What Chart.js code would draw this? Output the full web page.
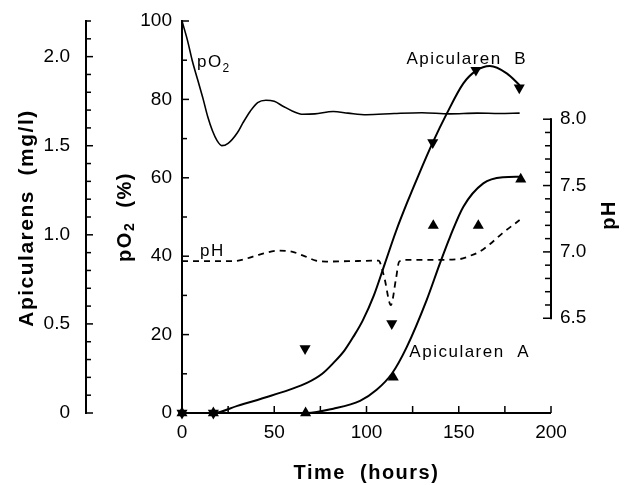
<!DOCTYPE html>
<html>
<head>
<meta charset="utf-8">
<script src="https://cdn.jsdelivr.net/npm/chart.js@4.4.0/dist/chart.umd.min.js"></script>
<style>
  html, body { margin: 0; padding: 0; background: #fff; }
  canvas { display: block; }
</style>
</head>
<body>
<canvas id="chart" width="624" height="485"></canvas>
<script>
// pO2 trace (% saturation) against time (hours)
const po2Hours = [0, 3, 5.5, 8.5, 11.5, 14, 16.5, 19, 21.5, 25, 30, 33, 37, 41, 45.5, 50, 55, 60, 65.5, 72, 82, 90, 100, 115, 130, 145, 160, 172, 183];
const po2Values = [100, 95, 90, 85, 80, 75.5, 72, 69.5, 68.2, 68.8, 71.5, 74, 77, 79.2, 79.8, 79.5, 78.2, 77, 76.2, 76.3, 76.9, 76.5, 76.1, 76.4, 76.6, 76.3, 76.5, 76.4, 76.5];

// pH trace (dashed)
const phHours = [0, 15, 28, 35, 42, 52.8, 60, 66, 72.6, 78, 90, 106.5, 109.6, 113.2, 115.9, 117.7, 121.3, 135, 150, 156, 161, 167, 173.6, 183];
const phValues = [6.93, 6.93, 6.93, 6.95, 6.98, 7.01, 7.0, 6.97, 6.935, 6.927, 6.93, 6.934, 6.81, 6.6, 6.79, 6.927, 6.94, 6.94, 6.945, 6.97, 7.0, 7.06, 7.14, 7.24];

// fitted curves (mg/l)
const apicBCurveHours = [0, 17, 30, 46, 58, 68, 76, 82, 88, 93, 98, 104, 110, 116, 122, 128, 136, 143.5, 152.5, 159.3, 166.9, 176, 183];
const apicBCurveValues = [0, 0, 0.04, 0.09, 0.13, 0.17, 0.22, 0.28, 0.35, 0.43, 0.52, 0.66, 0.84, 1.02, 1.18, 1.33, 1.52, 1.68, 1.85, 1.92, 1.947, 1.906, 1.84];
const apicACurveHours = [0, 17, 45, 67.6, 82, 96.5, 105.5, 113.7, 121.8, 132.6, 139.8, 145.3, 152.5, 163.3, 174.1, 183.2];
const apicACurveValues = [0, 0, 0, 0, 0.024, 0.068, 0.13, 0.22, 0.37, 0.634, 0.84, 0.989, 1.158, 1.289, 1.323, 1.326];

// measured points (mg/l)
const apicBHours = [0, 17, 66.7, 113.7, 135.9, 159.3, 182.8];
const apicBValues = [0, 0, 0.362, 0.502, 1.518, 1.924, 1.825];
const apicAHours = [0, 17, 67, 114.5, 136.2, 160.6, 183.6];
const apicAValues = [0, 0, 0, 0.2, 1.052, 1.052, 1.312];

const xTickLabels = [0, 50, 100, 150, 200];
const po2TickLabels = [0, 20, 40, 60, 80, 100];
const apicTickLabels = [0, 0.5, 1.0, 1.5, 2.0];
const phTickLabels = [6.5, 7.0, 7.5, 8.0];

// text written next to the curves, placed in hours / pO2 units
const curveLabels = [
  { parts: [["pO", 0], ["2", 1]], hours: 8.1, po2: 88.3, align: "left" },
  { parts: [["pH", 0]], hours: 9.8, po2: 40.0, align: "left" },
  { parts: [["Apicularen  B", 0]], hours: 187, po2: 89.0, align: "right" },
  { parts: [["Apicularen  A", 0]], hours: 188.6, po2: 14.3, align: "right" },
];

const FONT = "'Liberation Sans', Arial, Helvetica, sans-serif";
Chart.defaults.font.family = FONT;
Chart.defaults.color = "#000";

const toPoints = (xs, ys) => xs.map((x, i) => ({ x, y: ys[i] }));
const pickLabel = (list, v, fmt) => {
  const hit = list.find((l) => Math.abs(l - v) < 1e-6);
  return hit === undefined ? "" : fmt(hit);
};

// writes text pieces in a row; pieces flagged 1 are subscripts
const drawParts = (ctx, parts, x, y, size, weight, align) => {
  ctx.save();
  ctx.letterSpacing = "1.5px";
  const fontOf = (sub) => `${weight} ${sub ? Math.round(size * 0.72) : size}px ${FONT}`;
  const widths = parts.map(([t, sub]) => {
    ctx.font = fontOf(sub);
    return ctx.measureText(t).width;
  });
  const total = widths.reduce((a, b) => a + b, 0);
  let cx = align === "right" ? x - total : align === "center" ? x - total / 2 : x;
  ctx.textAlign = "left";
  parts.forEach(([t, sub], i) => {
    ctx.font = fontOf(sub);
    ctx.fillText(t, cx, y + (sub ? size * 0.28 : 0));
    cx += widths[i];
  });
  ctx.restore();
};

const drawAxisLines = (chart) => {
  const { ctx, scales, chartArea } = chart;
  const ya = scales.yA;
  const ph = scales.yPH;
  const { left, right, top, bottom } = chartArea;
  ctx.save();
  ctx.fillStyle = "#000";
  ctx.setLineDash([]);
  const ph80 = ph.getPixelForValue(8.0);
  const ph65 = ph.getPixelForValue(6.5);
  ctx.fillRect(left - 1, top - 1, 2, bottom - top + 2);
  ctx.fillRect(ya.right - 1, top - 1, 2, bottom - top + 2);
  ctx.fillRect(right - 1, ph80 - 1, 2, ph65 - ph80 + 2);
  ctx.fillRect(left - 1, bottom - 1, right - left + 1, 2);
  ctx.restore();
};

// axis lines, inward tick marks and the side titles drawn by hand
const axisPlugin = {
  id: "axisLines",
  afterDraw(chart) {
    const { ctx, scales, chartArea } = chart;
    const xs = scales.x;
    const ys = scales.y;
    const ya = scales.yA;
    const ph = scales.yPH;
    const { top, bottom, left, right } = chartArea;
    drawAxisLines(chart);

    ctx.save();
    ctx.fillStyle = "#000";
    // tick marks pointing into the plot
    xs.ticks.forEach((t) => {
      if (t.value === 0) return;
      const px = xs.getPixelForValue(t.value);
      ctx.fillRect(px - 0.75, bottom - 7, 1.5, 7);
    });
    [ys, ya].forEach((s) => {
      s.ticks.forEach((t) => {
        const py = s.getPixelForValue(t.value);
        const len = t.label !== "" ? 7 : 5;
        ctx.fillRect(s.right, py - 0.75, len, 1.5);
      });
    });
    ph.ticks.forEach((t) => {
      const py = ph.getPixelForValue(t.value);
      const len = t.label !== "" ? 8 : 6;
      ctx.fillRect(right - len, py - 0.75, len, 1.5);
    });

    const midY = (top + bottom) / 2;
    ctx.textBaseline = "middle";

    // x title
    drawParts(ctx, [["Time  (hours)", 0]], (left + right) / 2, 473, 20, "bold", "center");

    // Apicularens title, reading bottom to top
    ctx.save();
    ctx.translate(ya.left + 27, midY + 1);
    ctx.rotate(-Math.PI / 2);
    drawParts(ctx, [["Apicularens  (mg/l)", 0]], 0, 0, 21, "bold", "center");
    ctx.restore();

    // pO2 title, reading bottom to top
    ctx.save();
    ctx.translate(ys.left + 39, midY);
    ctx.rotate(-Math.PI / 2);
    drawParts(ctx, [["pO", 0], ["2", 1], ["  (%)", 0]], 0, 0, 20, "bold", "center");
    ctx.restore();

    // pH title, reading bottom to top
    ctx.save();
    ctx.translate(ph.left + 58, midY - 2);
    ctx.rotate(-Math.PI / 2);
    drawParts(ctx, [["pH", 0]], 0, 0, 20, "bold", "center");
    ctx.restore();

    ctx.restore();
  },
};

const labelPlugin = {
  id: "curveLabels",
  afterDatasetsDraw(chart) {
    const { ctx, scales } = chart;
    ctx.save();
    ctx.fillStyle = "#000";
    ctx.textBaseline = "alphabetic";
    curveLabels.forEach((l) => {
      drawParts(ctx, l.parts, scales.x.getPixelForValue(l.hours), scales.y.getPixelForValue(l.po2), 17, "normal", l.align);
    });
    ctx.restore();
  },
};

const lineStyle = {
  borderColor: "#000",
  pointRadius: 0,
  fill: false,
  cubicInterpolationMode: "monotone",
};
const frameStyle = {
  borderColor: "#000",
  borderWidth: 2,
  pointRadius: 0,
  fill: false,
  clip: false,
  tension: 0,
};
const markerStyle = {
  showLine: false,
  pointStyle: "triangle",
  pointRadius: 6.4,
  backgroundColor: "#000",
  borderColor: "#000",
  borderWidth: 0,
  clip: false,
  yAxisID: "yA",
};

const axisGrid = { display: false, drawTicks: false };
const axisBorder = { display: false };
const fixWidth = (w) => (s) => {
  s.width = w;
  s.paddingTop = 0;
  s.paddingBottom = 0;
};

new Chart(document.getElementById("chart").getContext("2d"), {
  type: "line",
  data: {
    datasets: [
      { ...lineStyle, label: "pO2", data: toPoints(po2Hours, po2Values), yAxisID: "y", borderWidth: 1.6 },
      { ...lineStyle, label: "pH", data: toPoints(phHours, phValues), yAxisID: "yPH", borderWidth: 1.8, borderDash: [6, 5] },
      { ...lineStyle, label: "Apicularen B fit", data: toPoints(apicBCurveHours, apicBCurveValues), yAxisID: "yA", borderWidth: 2 },
      { ...lineStyle, label: "Apicularen A fit", data: toPoints(apicACurveHours, apicACurveValues), yAxisID: "yA", borderWidth: 2 },
      { ...markerStyle, label: "Apicularen B", data: toPoints(apicBHours, apicBValues), pointRotation: 180 },
      { ...markerStyle, label: "Apicularen A", data: toPoints(apicAHours, apicAValues), pointRotation: 0 },
      // axis frame along the time axis, the pO2 axis and the pH axis
      { ...frameStyle, label: "time axis", data: [{ x: 0, y: 0 }, { x: 200, y: 0 }], yAxisID: "y" },
      { ...frameStyle, label: "pO2 axis", data: [{ x: 0, y: 0 }, { x: 0, y: 100 }], yAxisID: "y" },
      { ...frameStyle, label: "pH axis", data: [{ x: 200, y: 6.5 }, { x: 200, y: 8.0 }], yAxisID: "yPH" },
    ],
  },
  options: {
    responsive: false,
    animation: false,
    events: [],
    layout: { padding: { top: 21, left: 0, right: 0, bottom: 0 } },
    plugins: { legend: { display: false }, tooltip: { enabled: false } },
    scales: {
      x: {
        type: "linear",
        position: "bottom",
        min: 0,
        max: 200,
        border: axisBorder,
        grid: axisGrid,
        ticks: {
          stepSize: 25,
          padding: 8,
          autoSkip: false,
          maxRotation: 0,
          font: { size: 19 },
          callback: (v) => pickLabel(xTickLabels, v, String),
        },
        title: { display: false },
        afterFit: (s) => {
          s.height = 72;
          s.paddingLeft = 0;
          s.paddingRight = 0;
        },
      },
      y: {
        position: "left",
        weight: 0,
        min: 0,
        max: 100,
        border: axisBorder,
        grid: axisGrid,
        ticks: {
          stepSize: 10,
          padding: 10,
          autoSkip: false,
          font: { size: 19 },
          callback: (v) => pickLabel(po2TickLabels, v, String),
        },
        title: { display: false },
        afterFit: fixWidth(96),
      },
      yA: {
        position: "left",
        weight: 1,
        min: 0,
        max: 2.2,
        border: axisBorder,
        grid: axisGrid,
        ticks: {
          stepSize: 0.1,
          padding: 16,
          autoSkip: false,
          font: { size: 19 },
          callback: (v) => pickLabel(apicTickLabels, v, (l) => (l === 0 ? "0" : l.toFixed(1))),
        },
        title: { display: false },
        afterFit: fixWidth(86),
      },
      yPH: {
        position: "right",
        min: 5.786,
        max: 8.74,
        border: axisBorder,
        grid: axisGrid,
        ticks: {
          padding: 9,
          autoSkip: false,
          font: { size: 19 },
          callback: (v) => pickLabel(phTickLabels, v, (l) => l.toFixed(1)),
        },
        afterBuildTicks: (s) => {
          const ticks = [];
          for (let i = 65; i <= 80; i += 1) ticks.push({ value: i / 10 });
          s.ticks = ticks;
        },
        afterFit: fixWidth(73),
      },
    },
  },
  plugins: [labelPlugin, axisPlugin],
});
</script>
</body>
</html>
